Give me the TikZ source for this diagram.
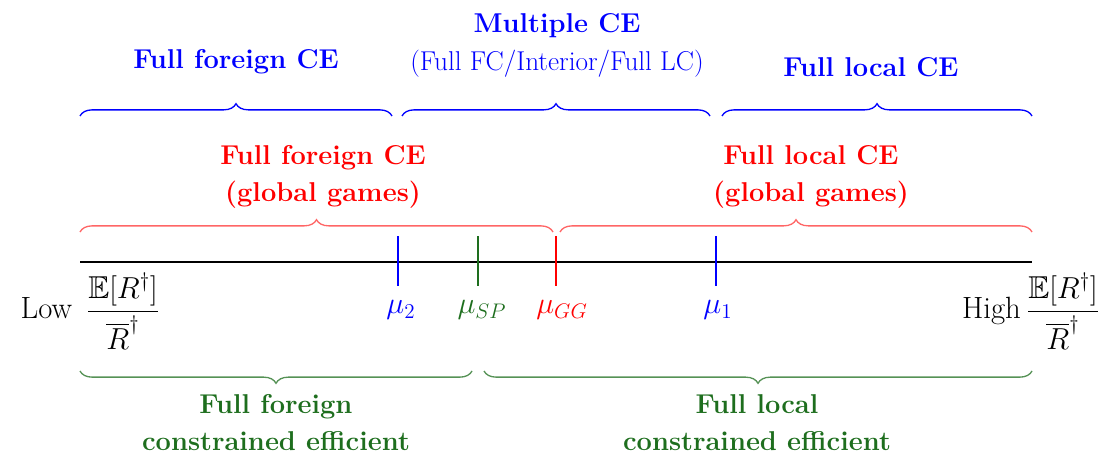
\documentclass[tikz,border=0pt]{standalone}
\usepackage{amsmath,amssymb}
\usetikzlibrary{decorations.pathreplacing}
\definecolor{cegreen}{RGB}{30,110,30}

\begin{document}
\begin{tikzpicture}[x=0.02cm,y=-0.02cm,
    font=\fontsize{15.5}{21}\selectfont,
    lbl/.style={align=center,anchor=base,font=\fontsize{15.5}{21}\selectfont\bfseries},
    brc/.style={decorate,decoration={brace,amplitude=7pt},line width=0.75pt},
    tick/.style={line width=1.6pt},
    mu/.style={font=\fontsize{18}{20}\selectfont}]
    \useasboundingbox (0,0) rectangle (1104,456);

    \coordinate (lo) at (80,262);
    \coordinate (hi) at (1032,262);
    \draw[line width=1.6pt] (lo) -- (hi);

    \draw[tick,blue] (398,236) coordinate (m2t) -- (398,286) coordinate (m2);
    \draw[tick,cegreen] (478,236) coordinate (mspt) -- (478,286) coordinate (msp);
    \draw[tick,red] (556,236) coordinate (mggt) -- (556,286) coordinate (mgg);
    \draw[tick,blue] (716,236) coordinate (m1t) -- (716,286) coordinate (m1);

    \node[mu,blue] (lm2) at (401,310) {$\mu_2$};
    \node[mu,cegreen] (lmsp) at (482,310) {$\mu_{SP}$};
    \node[mu,red] (lmgg) at (562,310) {$\mu_{GG}$};
    \node[mu,blue] (lm1) at (718,310) {$\mu_1$};

    \node[mu,anchor=east] (low) at (166,311) {{\fontsize{17.5}{20}\selectfont Low}\hspace{8pt}$\dfrac{\mathbb{E}[R^\dagger]}{\overline{R}^\dagger}$};
    \node[mu,anchor=east] (high) at (1106,311) {{\fontsize{17.5}{20}\selectfont High}\hspace{3pt}$\dfrac{\mathbb{E}[R^\dagger]}{\overline{R}^\dagger}$};

    % complete-information equilibria
    \draw[brc,blue] (80,116) -- (392,116);
    \draw[brc,blue] (402,116) -- (710,116);
    \draw[brc,blue] (722,116) -- (1032,116);
    \node[lbl,blue] (fce) at (236,69) {Full foreign CE};
    \node[lbl,blue] (mce) at (557,33) {Multiple CE};
    \node[blue,anchor=base] (mcesub) at (557,71) {(Full FC/Interior/Full LC)};
    \node[lbl,blue] (lce) at (871,76) {Full local CE};

    % global games
    \draw[brc,red!60] (80,232) -- (553,232);
    \draw[brc,red!60] (560,232) -- (1032,232);
    \node[lbl,red] (fgg) at (323,201) {Full foreign CE\\(global games)};
    \node[lbl,red] (lgg) at (811,201) {Full local CE\\(global games)};

    % constrained efficient
    \draw[brc,cegreen!75] (472,371) -- (80,371);
    \draw[brc,cegreen!75] (1032,371) -- (484,371);
    \node[lbl,cegreen] (fsp) at (276,450) {Full foreign\\constrained efficient};
    \node[lbl,cegreen] (lsp) at (757,450) {Full local\\constrained efficient};
\end{tikzpicture}
\end{document}
